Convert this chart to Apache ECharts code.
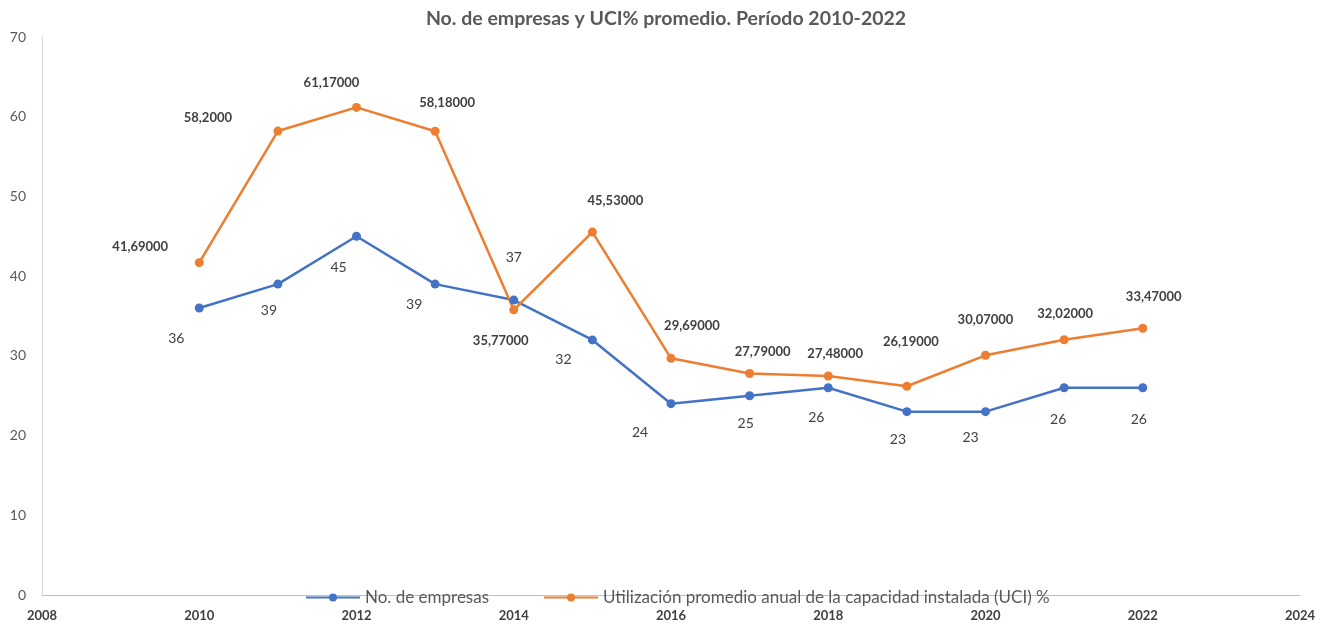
<!DOCTYPE html>
<html>
<head>
<meta charset="utf-8">
<script src="https://cdn.jsdelivr.net/npm/echarts@6/dist/echarts.min.js"></script>
<style>
html,body{margin:0;padding:0;background:#fff;}
#chart{width:1332px;height:626px;}
</style>
</head>
<body>
<div id="chart"></div>
<script>
// ---- data ----
var years = [2010, 2011, 2012, 2013, 2014, 2015, 2016, 2017, 2018, 2019, 2020, 2021, 2022];
var empresas = [36, 39, 45, 39, 37, 32, 24, 25, 26, 23, 23, 26, 26];
var uci = [41.69, 58.2, 61.17, 58.18, 35.77, 45.53, 29.69, 27.79, 27.48, 26.19, 30.07, 32.02, 33.47];
var uciLabels = ['41,69000', '58,2000', '61,17000', '58,18000', '35,77000', '45,53000', '29,69000', '27,79000', '27,48000', '26,19000', '30,07000', '32,02000', '33,47000'];
var seriesNames = ['No. de empresas', 'Utilización promedio anual de la capacidad instalada (UCI) %'];
var titleText = 'No. de empresas y UCI% promedio. Período 2010-2022';

// ---- label layout (style only) ----
var empresasLabelOffsets = [[-23,30],[-9,26],[-18,31],[-21,20],[0,-43],[-29,20],[-31,29],[-4,28],[-12,30],[-9,28],[-15,26],[-6,32],[-4,32]];
var uciLabelOffsets = [[-59,-16],[-70,-13],[-25,-25],[12,-28],[-13,31],[23,-31],[21,-33],[13,-22],[7,-22],[4,-44],[0,-35],[1,-26],[11,-31]];

var FONT = 'Lato, "Open Sans", sans-serif';

var empresasData = years.map(function (y, i) {
  return {
    value: [y, empresas[i]],
    label: { offset: empresasLabelOffsets[i] }
  };
});
var uciData = years.map(function (y, i) {
  return {
    value: [y, uci[i]],
    label: { offset: uciLabelOffsets[i], formatter: uciLabels[i] }
  };
});

var chart = echarts.init(document.getElementById('chart'), null, { renderer: 'canvas' });
chart.setOption({
  animation: false,
  backgroundColor: '#ffffff',
  title: {
    text: titleText,
    left: 'center',
    top: 4,
    textStyle: { fontFamily: FONT, fontSize: 19.5, fontWeight: 'bold', color: '#595959' }
  },
  legend: {
    data: seriesNames,
    top: 584,
    left: 300,
    itemWidth: 54,
    itemHeight: 10,
    itemGap: 54,
    textStyle: { fontFamily: FONT, fontSize: 17, color: '#595959' }
  },
  grid: { left: 42, right: 32, top: 37, bottom: 31, containLabel: false },
  xAxis: {
    type: 'value',
    min: 2008,
    max: 2024,
    interval: 2,
    axisLine: { show: true, lineStyle: { color: '#bfbfbf', width: 1 } },
    axisTick: { show: false },
    splitLine: { show: false },
    axisLabel: {
      fontFamily: FONT, fontSize: 13, fontWeight: 'bold', color: '#404040', margin: 14,
      formatter: function (v) { return String(v); }
    }
  },
  yAxis: {
    type: 'value',
    min: 0,
    max: 70,
    interval: 10,
    axisLine: { show: true, lineStyle: { color: '#d9d9d9', width: 1 } },
    axisTick: { show: false },
    splitLine: { show: false },
    axisLabel: { fontFamily: FONT, fontSize: 14, color: '#595959', margin: 16 }
  },
  series: [
    {
      name: seriesNames[0],
      type: 'line',
      data: empresasData,
      color: '#4472C4',
      symbol: 'circle',
      symbolSize: 9,
      lineStyle: { width: 2.5, color: '#4472C4' },
      itemStyle: { color: '#4472C4' },
      label: {
        show: true,
        position: 'inside',
        fontFamily: FONT, fontSize: 14, color: '#404040',
        align: 'center', verticalAlign: 'middle'
      }
    },
    {
      name: seriesNames[1],
      type: 'line',
      data: uciData,
      color: '#ED7D31',
      symbol: 'circle',
      symbolSize: 9,
      lineStyle: { width: 2.5, color: '#ED7D31' },
      itemStyle: { color: '#ED7D31' },
      label: {
        show: true,
        position: 'inside',
        fontFamily: FONT, fontSize: 13, fontWeight: 'bold', color: '#404040',
        align: 'center', verticalAlign: 'middle'
      }
    }
  ]
});
</script>
</body>
</html>
